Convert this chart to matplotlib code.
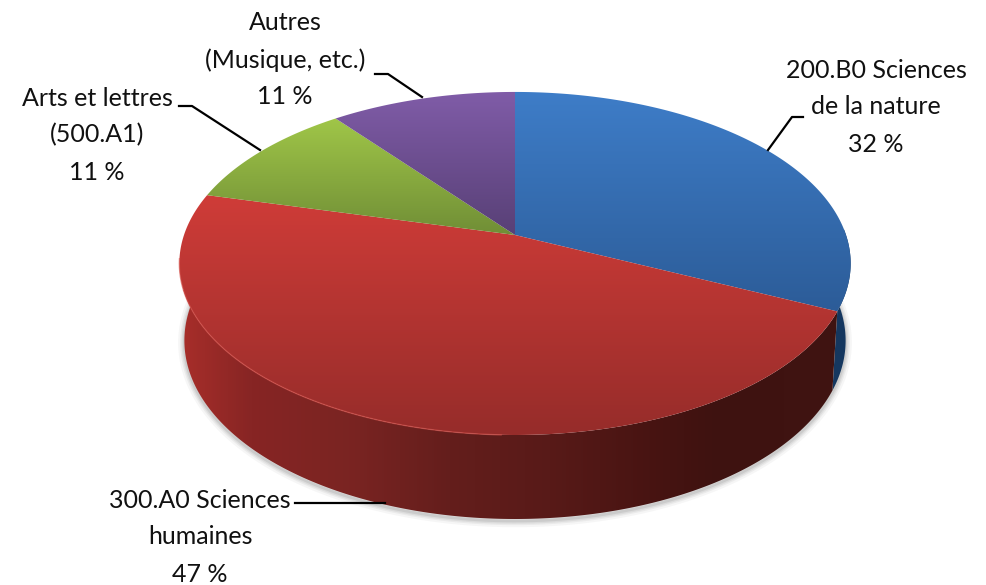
import numpy as np
import matplotlib
matplotlib.use("Agg")
import matplotlib.pyplot as plt
from matplotlib.patches import Polygon

# part de chaque tranche (les etiquettes sont arrondies)
noms = ["200.B0 Sciences", "300.A0 Sciences", "Arts et lettres", "Autres"]
parts = [32, 47, 10.5, 10.5]
haut = [(62, 125, 200), (207, 60, 56), (160, 198, 72), (128, 92, 168)]
bas = [(44, 92, 152), (150, 44, 42), (112, 142, 54), (88, 64, 118)]
mur_pos = [180, 250, 350, 450, 550, 650, 720, 850]
mur_rouge = [(168, 46, 42), (135, 37, 36), (122, 36, 34), (100, 30, 28), (88, 26, 24), (72, 20, 18), (62, 18, 16), (64, 20, 18)]

plt.rcParams['font.family'] = ['Lato', 'DejaVu Sans']

fig = plt.figure(figsize=(9.86, 5.85), dpi=100)
ax = fig.add_axes([0, 0, 1, 1])
ax.set_xlim(0, 986)
ax.set_ylim(585, 0)
ax.axis("off")

# projection perspective du disque
def disque(a, dy=0.0, sx=1.0, sy=1.0):
    t = np.radians(a)
    u = np.sin(t)
    v = np.cos(t)
    w = 1 + 0.166 * v
    return 515 + 331 * sx * u / w, 235 + dy - 166.8 * sy * v / w

def arc(a0, a1, **kw):
    return disque(np.linspace(a0, a1, int(abs(a1 - a0) * 2) + 2), **kw)

def degrade(poly, couleurs, ext, vertical=True, zorder=2):
    c = np.array(couleurs, dtype=float) / 255
    n = 256
    s = np.linspace(0, 1, n)
    g = np.stack([np.interp(s, np.linspace(0, 1, len(c)), c[:, i]) for i in range(3)], axis=-1)
    g = g[:, None, :] if vertical else g[None, :, :]
    im = ax.imshow(g, extent=ext, aspect="auto", zorder=zorder, interpolation="bilinear")
    im.set_clip_path(Polygon(poly, transform=ax.transData))

bords = np.cumsum([0] + parts) / sum(parts) * 360
fond = dict(dy=76, sx=0.985, sy=1.04)

# ombre sous le socle
bx, by = arc(80, 280, **fond)
for lw, al in zip([9, 6, 4, 2], [0.05, 0.07, 0.09, 0.12]):
    ax.plot(bx, by + 2, color="#555555", lw=lw, alpha=al, zorder=1, solid_capstyle="round")

# mur bleu
a_b = bords[1]
x0, y0 = arc(88, a_b)
x1, y1 = arc(88, a_b, **fond)
poly = np.r_[np.c_[x0, y0], np.c_[x1, y1][::-1]]
ax.add_patch(Polygon(poly, fc="#15375f", ec="none", zorder=2))

# mur rouge
x0, y0 = arc(a_b, 272)
x1, y1 = arc(a_b, 272, **fond)
poly = np.r_[np.c_[x0, y0], np.c_[x1, y1][::-1]]
s = np.linspace(180, 850, 400)
cols = np.array(mur_rouge, dtype=float)
g = np.stack([np.interp(s, mur_pos, cols[:, i]) for i in range(3)], axis=-1)
degrade(poly, g, (180, 850, 530, 290), vertical=False, zorder=3)

# dessus du disque
for i in range(len(parts)):
    x, y = arc(bords[i], bords[i + 1])
    poly = np.r_[[[515, 235]], np.c_[x, y]]
    ext = (170, 860, poly[:, 1].max(), poly[:, 1].min())
    degrade(poly, [haut[i], bas[i]], ext, zorder=4)

# petit reflet sur l'arete
x, y = arc(262, 182)
ax.plot(x, y, color="#d5504a", lw=1.0, alpha=0.6, zorder=5)

# etiquettes et traits de rappel
def etiquette(lignes, x, y0, pas=37):
    for k, l in enumerate(lignes):
        ax.text(x, y0 + k * pas, l, ha="center", va="center", fontsize=18, color="#111111", zorder=6)

etiquette(["Autres", "(Musique, etc.)", "11 %"], 285, 23)
etiquette(["Arts et lettres", "(500.A1)", "11 %"], 97, 98)
etiquette([noms[0], "de la nature", "32 %"], 876, 70)
etiquette([noms[1], "humaines", "47 %"], 200, 500)

ax.plot([375, 388, 422], [74, 74, 97], color="black", lw=1.6, zorder=6)
ax.plot([179, 192, 260], [106, 106, 150], color="black", lw=1.6, zorder=6)
ax.plot([803, 792, 768], [117, 117, 150], color="black", lw=1.6, zorder=6)
ax.plot([295, 385], [503, 503], color="black", lw=1.6, zorder=6)

fig.savefig("out.png", dpi=100)
